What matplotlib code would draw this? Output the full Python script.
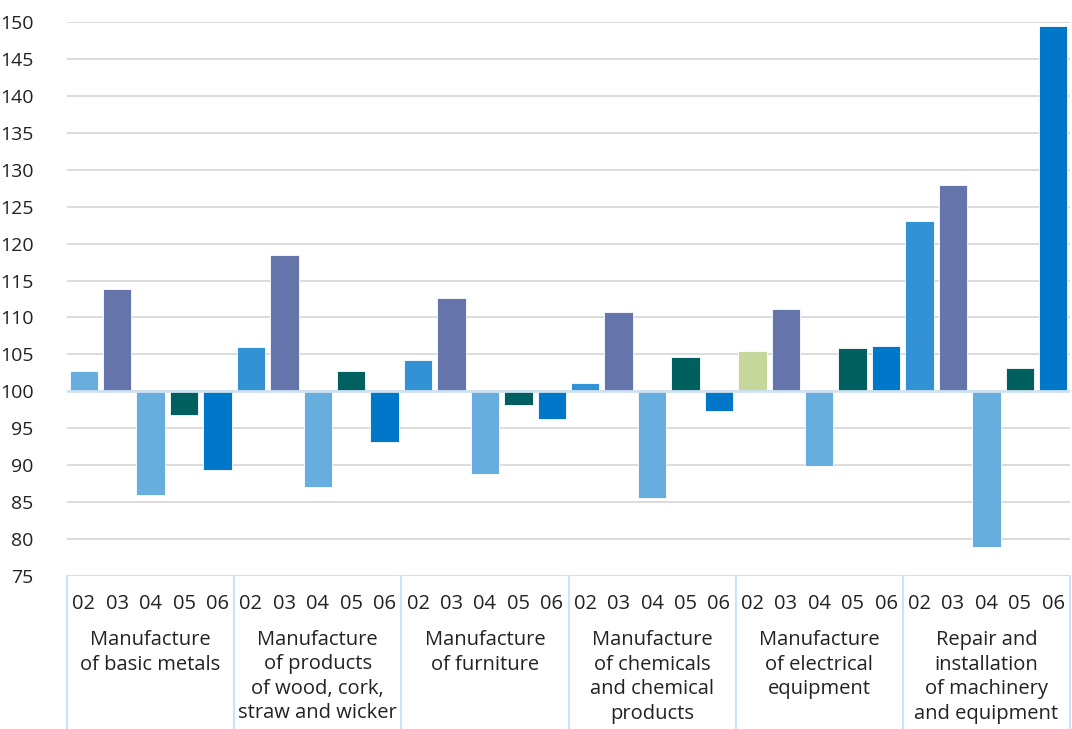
import matplotlib
matplotlib.use("Agg")
import matplotlib.pyplot as plt
import numpy as np

categories = [
    "Manufacture\nof basic metals",
    "Manufacture\nof products\nof wood, cork,\nstraw and wicker",
    "Manufacture\nof furniture",
    "Manufacture\nof chemicals\nand chemical\nproducts",
    "Manufacture\nof electrical\nequipment",
    "Repair and\ninstallation\nof machinery\nand equipment",
]
periods = ["02", "03", "04", "05", "06"]
v02 = [102.7, 106.0, 104.3, 101.1, 105.4, 123.1]
v03 = [113.8, 118.5, 112.7, 110.8, 111.1, 127.9]
v04 = [85.9, 87.1, 88.8, 85.5, 89.9, 78.9]
v05 = [96.8, 102.7, 98.1, 104.6, 105.8, 103.1]
v06 = [89.3, 93.2, 96.2, 97.4, 106.2, 149.4]
base = 100
yticks = list(range(75, 151, 5))

series = [v02, v03, v04, v05, v06]
colors = ["#3392D3", "#6674AC", "#67AEDE", "#00605F", "#0077C8"]
special = {(0, 0): "#67AEDE", (4, 0): "#C5D79B"}

plt.rcParams['font.family'] = ['Open Sans', 'DejaVu Sans']
W, H = 1072, 729
fig = plt.figure(figsize=(W / 100, H / 100), dpi=100)
left, right, top, bottom = 67, 1070, 22, 576
ax = fig.add_axes([left / W, (H - bottom) / H, (right - left) / W, (bottom - top) / H])

n = len(periods)
for g in range(len(categories)):
    for i in range(n):
        v = series[i][g]
        c = special.get((g, i), colors[i])
        ax.bar(g * n + i, v - base, bottom=base, width=0.85, color=c,
               edgecolor="white", linewidth=0.6, zorder=3)

ax.set_xlim(-0.5, len(categories) * n - 0.5)
ax.set_ylim(75, 150)
ax.set_yticks(yticks)
ax.set_yticklabels([str(t) for t in yticks], fontsize=14, color="#222222")
ax.tick_params(axis="y", length=0, pad=24)
for lab in ax.get_yticklabels():
    lab.set_horizontalalignment("right")
ax.set_xticks([])
for s in ax.spines.values():
    s.set_visible(False)
ax.grid(axis="y", color="#D6D6D6", linewidth=1.2, zorder=0)
ax.axhline(base, color="#CFE2F3", linewidth=2, zorder=4)

trans = ax.get_xaxis_transform()
axh = bottom - top
for g in range(len(categories) + 1):
    xb = g * n - 0.5
    ax.plot([xb, xb], [0, -(H - bottom) / axh], transform=trans, color="#CFE2F3",
            linewidth=1.5, clip_on=False)
for g, cat in enumerate(categories):
    for i, p in enumerate(periods):
        ax.text(g * n + i, -28 / axh, p, transform=trans, ha="center", va="center",
                fontsize=14.5, color="#222222")
    ax.text(g * n + (n - 1) / 2, -54 / axh, cat, transform=trans, ha="center", va="top",
            fontsize=14.5, color="#222222", linespacing=1.3)

fig.savefig("out.png", dpi=100)
